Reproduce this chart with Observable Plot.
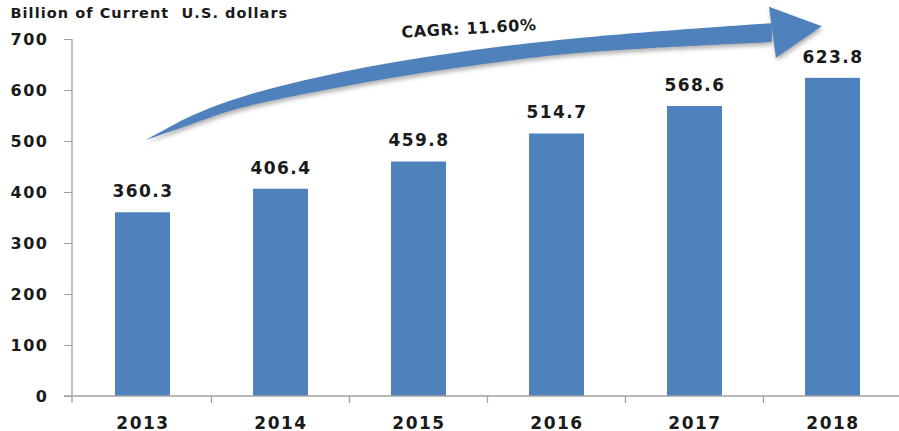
<!DOCTYPE html>
<html><head><meta charset="utf-8">
<script src="https://cdn.jsdelivr.net/npm/d3@7"></script>
<script src="https://cdn.jsdelivr.net/npm/@observablehq/plot@0.6"></script>
<style>
body{margin:0;background:#fff}
#chart svg{font-family:"DejaVu Sans",sans-serif;font-weight:bold}
#chart g[aria-label="y-axis tick"] path{stroke:#a0a0a0}
#chart g[aria-label="y-axis tick label"] text{font-size:16px;letter-spacing:1.5px}
#chart g[aria-label="x-axis tick label"] text{font-size:17px;letter-spacing:1.5px}
#chart .value-label text{letter-spacing:1.4px}
#chart .cagr-label text{letter-spacing:0.6px}
#chart .title-label text{letter-spacing:1.05px}
</style>
</head><body><div id="chart"></div>
<script>
const years = ["2013","2014","2015","2016","2017","2018"];
const values = [360.3, 406.4, 459.8, 514.7, 568.6, 623.8];
const yTicks = [0, 100, 200, 300, 400, 500, 600, 700];
const titleText = "Billion of Current  U.S. dollars";
const cagrNote = [{label: "CAGR: 11.60%", year: "2015", value: 721}];
// arrow shaft in data units: position in bands from the 2013 centre, upper and lower edge values
const shaftPos   = [0.027, 0.352, 0.713, 1.435, 2.265, 3.168, 4.56];
const shaftUpper = [502, 549, 586, 635, 673, 702, 731];
const shaftLower = [502, 533, 565, 606, 643, 673, 694];
// arrow head triangle: [position, value]
const arrowHead = [[4.54, 763], [4.922, 725], [4.59, 663]];

const data = years.map((year, i) => ({year, value: values[i]}));
const barColor = "#4F81BD";
const axisColor = "#a0a0a0";
const padInner = 0.6;

function bandGeom(scales) {
  const x0 = scales.x(years[0]);
  const step = scales.x(years[1]) - x0;
  let bw = scales.x.bandwidth;
  if (typeof bw === "function") bw = bw();
  if (typeof bw !== "number" || !isFinite(bw)) bw = step * (1 - padInner);
  const c0 = x0 + bw / 2;
  return {step, c0, px: (xi) => c0 + xi * step};
}

const axesDecor = (index, scales, values, dim) => {
  const g = d3.create("svg:g").attr("stroke", axisColor).attr("stroke-width", 1.3).attr("fill", "none");
  const {step, c0} = bandGeom(scales);
  const yb = scales.y(0);
  g.append("line").attr("x1", dim.marginLeft).attr("x2", dim.marginLeft)
    .attr("y1", scales.y(700)).attr("y2", yb + 7);
  g.append("line").attr("x1", dim.marginLeft - 8).attr("x2", dim.width)
    .attr("y1", yb).attr("y2", yb);
  years.forEach((y, i) => {
    const bx = c0 + (i + 0.5) * step;
    g.append("line").attr("x1", bx).attr("x2", bx).attr("y1", yb).attr("y2", yb + 7);
  });
  return g.node();
};

const arrowMark = (index, scales) => {
  const {px} = bandGeom(scales);
  const g = d3.create("svg:g").attr("fill", barColor)
    .attr("style", "filter: drop-shadow(1px 3px 2px rgba(0,0,0,0.3))");
  const area = d3.area()
    .x(i => px(shaftPos[i]))
    .y0(i => scales.y(shaftLower[i]))
    .y1(i => scales.y(shaftUpper[i]))
    .curve(d3.curveCatmullRom.alpha(0.5));
  g.append("path").attr("d", area(d3.range(shaftPos.length)));
  g.append("path").attr("d", "M" + arrowHead.map(p => `${px(p[0])},${scales.y(p[1])}`).join("L") + "Z");
  return g.node();
};

const chart = Plot.plot({
  width: 899, height: 431,
  marginLeft: 72, marginRight: -4, marginTop: 39, marginBottom: 35,
  style: {background: "#fff", color: "#1a1a1a", overflow: "visible"},
  x: {domain: years, paddingInner: padInner, paddingOuter: 0.3},
  y: {domain: [0, 700]},
  marks: [
    Plot.barY(data, {x: "year", y: "value", fill: barColor}),
    axesDecor,
    Plot.axisY({ticks: yTicks, tickSize: 8, tickPadding: 16, label: null}),
    Plot.axisX({tickSize: 0, tickPadding: 20, label: null}),
    Plot.text(data, {x: "year", y: "value", text: d => d.value.toFixed(1), dy: -21, lineAnchor: "middle", fontSize: 17, fontWeight: "bold", fill: "#1a1a1a", className: "value-label"}),
    arrowMark,
    Plot.text(cagrNote, {x: "year", y: "value", text: "label", dx: 50, rotate: -3.3, fontSize: 16, fontWeight: "bold", fill: "#1a1a1a", className: "cagr-label"}),
    Plot.text([titleText], {frameAnchor: "top-left", dx: -62, dy: -32, textAnchor: "start", lineAnchor: "top", fontSize: 14.5, fontWeight: "bold", fill: "#1a1a1a", className: "title-label"})
  ]
});
document.getElementById("chart").append(chart);
</script>
</body></html>
